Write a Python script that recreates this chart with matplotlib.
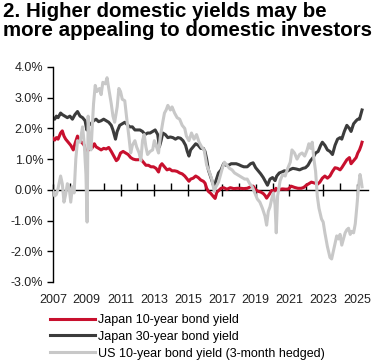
import numpy as np
import matplotlib.pyplot as plt
from matplotlib.ticker import MultipleLocator, FuncFormatter

plt.rcParams['font.family'] = ['Liberation Sans', 'DejaVu Sans']

# Japan 10-year bond yield (%), decimal year
jgb10_t = [2007.00, 2007.10, 2007.20, 2007.30, 2007.45, 2007.55, 2007.65, 2007.75, 2007.90, 2008.05,
           2008.20, 2008.30, 2008.45, 2008.55, 2008.70, 2008.85, 2008.95, 2009.10, 2009.30, 2009.45,
           2009.55, 2009.70, 2009.85, 2010.00, 2010.15, 2010.30, 2010.45, 2010.60, 2010.75, 2010.85,
           2011.00, 2011.15, 2011.30, 2011.45, 2011.60, 2011.75, 2011.90, 2012.05, 2012.20, 2012.35,
           2012.50, 2012.65, 2012.80, 2012.95, 2013.10, 2013.25, 2013.35, 2013.45, 2013.60, 2013.75,
           2013.90, 2014.05, 2014.20, 2014.35, 2014.50, 2014.65, 2014.80, 2014.95, 2015.05, 2015.15,
           2015.30, 2015.45, 2015.60, 2015.75, 2015.90, 2016.00, 2016.10, 2016.20, 2016.35, 2016.50,
           2016.60, 2016.70, 2016.85, 2016.95, 2017.10, 2017.30, 2017.50, 2017.70, 2017.90, 2018.10,
           2018.30, 2018.50, 2018.70, 2018.85, 2019.00, 2019.15, 2019.30, 2019.45, 2019.55, 2019.65,
           2019.80, 2019.95, 2020.10, 2020.20, 2020.30, 2020.45, 2020.60, 2020.80, 2020.95, 2021.10,
           2021.30, 2021.50, 2021.70, 2021.85, 2022.00, 2022.15, 2022.30, 2022.50, 2022.65, 2022.80,
           2022.95, 2023.10, 2023.25, 2023.40, 2023.55, 2023.70, 2023.85, 2024.00, 2024.10, 2024.25,
           2024.40, 2024.55, 2024.65, 2024.80, 2024.95, 2025.05, 2025.15, 2025.25, 2025.30]
jgb10_v = [1.68, 1.62, 1.70, 1.65, 1.85, 1.92, 1.75, 1.65, 1.55, 1.45,
           1.30, 1.50, 1.75, 1.60, 1.55, 1.45, 1.20, 1.30, 1.35, 1.50,
           1.40, 1.35, 1.30, 1.35, 1.33, 1.38, 1.25, 1.10, 0.95, 1.00,
           1.20, 1.25, 1.20, 1.15, 1.05, 1.00, 0.98, 0.98, 1.00, 0.90,
           0.80, 0.80, 0.75, 0.75, 0.70, 0.58, 0.78, 0.85, 0.75, 0.65,
           0.68, 0.62, 0.62, 0.60, 0.55, 0.52, 0.45, 0.35, 0.28, 0.35,
           0.38, 0.45, 0.40, 0.32, 0.28, 0.22, 0.05, -0.05, -0.12, -0.22,
           -0.28, -0.08, 0.00, 0.05, 0.07, 0.02, 0.07, 0.04, 0.05, 0.05,
           0.04, 0.05, 0.10, 0.12, 0.00, -0.05, -0.07, -0.12, -0.18, -0.27,
           -0.15, -0.02, -0.05, 0.05, -0.02, 0.02, 0.03, 0.02, 0.03, 0.12,
           0.08, 0.05, 0.05, 0.08, 0.15, 0.20, 0.25, 0.22, 0.18, 0.25,
           0.38, 0.45, 0.38, 0.45, 0.60, 0.72, 0.70, 0.65, 0.72, 0.85,
           0.98, 1.05, 0.85, 0.95, 1.05, 1.20, 1.30, 1.45, 1.55]

# Japan 30-year bond yield (%)
jgb30_t = [2007.00, 2007.10, 2007.20, 2007.30, 2007.45, 2007.55, 2007.70, 2007.85, 2008.00, 2008.15,
           2008.30, 2008.45, 2008.60, 2008.75, 2008.90, 2009.00, 2009.10, 2009.25, 2009.40, 2009.55,
           2009.70, 2009.85, 2010.00, 2010.15, 2010.30, 2010.45, 2010.55, 2010.70, 2010.80, 2010.95,
           2011.10, 2011.25, 2011.40, 2011.55, 2011.70, 2011.85, 2012.00, 2012.15, 2012.30, 2012.45,
           2012.60, 2012.75, 2012.90, 2013.05, 2013.20, 2013.30, 2013.40, 2013.50, 2013.65, 2013.80,
           2013.95, 2014.10, 2014.25, 2014.40, 2014.55, 2014.70, 2014.85, 2014.95, 2015.05, 2015.15,
           2015.30, 2015.45, 2015.60, 2015.75, 2015.90, 2016.00, 2016.10, 2016.20, 2016.35, 2016.50,
           2016.55, 2016.65, 2016.80, 2016.95, 2017.10, 2017.25, 2017.40, 2017.55, 2017.70, 2017.85,
           2018.00, 2018.15, 2018.30, 2018.50, 2018.70, 2018.85, 2019.00, 2019.15, 2019.30, 2019.45,
           2019.60, 2019.70, 2019.85, 2020.00, 2020.15, 2020.25, 2020.40, 2020.55, 2020.70, 2020.85,
           2021.00, 2021.20, 2021.40, 2021.60, 2021.80, 2021.95, 2022.10, 2022.25, 2022.40, 2022.55,
           2022.70, 2022.85, 2022.95, 2023.10, 2023.25, 2023.40, 2023.55, 2023.70, 2023.85, 2024.00,
           2024.10, 2024.25, 2024.40, 2024.55, 2024.65, 2024.80, 2024.95, 2025.05, 2025.15, 2025.25,
           2025.30]
jgb30_v = [2.35, 2.30, 2.40, 2.35, 2.50, 2.45, 2.40, 2.35, 2.40, 2.30,
           2.45, 2.55, 2.40, 2.35, 2.25, 1.95, 2.10, 2.15, 2.25, 2.30,
           2.22, 2.25, 2.30, 2.25, 2.20, 2.10, 1.95, 1.65, 1.90, 2.10,
           2.15, 2.20, 2.12, 2.05, 2.05, 1.95, 1.95, 1.95, 1.90, 1.80,
           1.85, 1.85, 1.90, 1.95, 1.80, 1.40, 1.60, 1.85, 1.80, 1.70,
           1.72, 1.70, 1.65, 1.70, 1.68, 1.60, 1.45, 1.25, 1.10, 1.30,
           1.40, 1.50, 1.45, 1.35, 1.35, 1.25, 1.00, 0.65, 0.40, 0.15,
           0.08, 0.30, 0.55, 0.65, 0.85, 0.80, 0.80, 0.85, 0.85, 0.85,
           0.82, 0.78, 0.75, 0.75, 0.85, 0.88, 0.72, 0.62, 0.52, 0.40,
           0.25, 0.15, 0.35, 0.40, 0.30, 0.45, 0.55, 0.58, 0.62, 0.60,
           0.65, 0.70, 0.68, 0.65, 0.70, 0.72, 0.80, 0.95, 1.05, 1.20,
           1.25, 1.45, 1.55, 1.45, 1.30, 1.25, 1.15, 1.45, 1.65, 1.70,
           1.65, 1.90, 2.10, 2.00, 1.90, 2.15, 2.25, 2.30, 2.30, 2.50,
           2.60]

# US 10-year bond yield, 3-month hedged into JPY (%)
us10h_t = [2007.00, 2007.10, 2007.20, 2007.30, 2007.45, 2007.55, 2007.65, 2007.75, 2007.85, 2007.95,
           2008.05, 2008.15, 2008.25, 2008.35, 2008.45, 2008.60, 2008.75, 2008.85, 2008.95, 2009.02,
           2009.08, 2009.15, 2009.25, 2009.40, 2009.50, 2009.60, 2009.75, 2009.85, 2009.95, 2010.10,
           2010.20, 2010.30, 2010.45, 2010.55, 2010.65, 2010.80, 2010.90, 2011.00, 2011.10, 2011.25,
           2011.35, 2011.50, 2011.60, 2011.70, 2011.85, 2011.95, 2012.10, 2012.20, 2012.30, 2012.40,
           2012.50, 2012.60, 2012.75, 2012.90, 2013.00, 2013.10, 2013.25, 2013.35, 2013.50, 2013.60,
           2013.70, 2013.80, 2013.95, 2014.05, 2014.20, 2014.35, 2014.50, 2014.65, 2014.80, 2014.90,
           2015.05, 2015.20, 2015.35, 2015.50, 2015.65, 2015.80, 2015.95, 2016.10, 2016.25, 2016.40,
           2016.55, 2016.65, 2016.80, 2016.95, 2017.05, 2017.15, 2017.30, 2017.45, 2017.60, 2017.75,
           2017.90, 2018.05, 2018.20, 2018.35, 2018.50, 2018.65, 2018.80, 2018.95, 2019.10, 2019.25,
           2019.40, 2019.55, 2019.65, 2019.75, 2019.85, 2019.95, 2020.05, 2020.15, 2020.22, 2020.30,
           2020.45, 2020.60, 2020.75, 2020.90, 2021.05, 2021.15, 2021.30, 2021.45, 2021.60, 2021.75,
           2021.90, 2022.05, 2022.15, 2022.25, 2022.35, 2022.45, 2022.55, 2022.65, 2022.75, 2022.90,
           2023.00, 2023.10, 2023.25, 2023.40, 2023.50, 2023.60, 2023.70, 2023.80, 2023.90, 2024.00,
           2024.10, 2024.20, 2024.30, 2024.40, 2024.50, 2024.60, 2024.70, 2024.80, 2024.90, 2025.00,
           2025.10, 2025.18, 2025.25, 2025.30]
us10h_v = [-0.05, -0.20, -0.15, 0.05, 0.45, 0.20, -0.40, -0.15, 0.20, 0.10,
           -0.40, 0.10, -0.10, 1.00, 1.60, 1.55, 2.05, 1.50, 0.50, -1.05,
           2.40, 1.60, 1.30, 2.80, 3.40, 3.20, 3.30, 3.10, 3.50, 3.45,
           3.65, 3.30, 2.80, 2.40, 2.20, 2.70, 3.30, 3.20, 2.95, 2.90,
           2.40, 1.70, 1.20, 1.45, 1.60, 1.40, 1.20, 0.95, 1.60, 1.80,
           1.40, 1.15, 1.25, 1.30, 1.60, 1.45, 1.20, 1.70, 2.20, 2.50,
           2.60, 2.75, 2.60, 2.70, 2.50, 2.35, 2.30, 2.10, 2.00, 1.75,
           1.60, 1.85, 1.65, 1.80, 1.55, 1.40, 1.30, 0.80, 0.60, 0.35,
           -0.05, 0.10, 0.25, 0.55, 0.75, 0.90, 0.80, 0.70, 0.65, 0.55,
           0.50, 0.45, 0.40, 0.35, 0.35, 0.20, 0.10, -0.10, -0.30, -0.40,
           -0.60, -0.85, -1.15, -0.70, -0.55, -0.30, -0.10, -0.50, -1.40, -0.20,
           0.30, 0.50, 0.45, 0.70, 0.90, 1.30, 1.20, 1.00, 1.15, 1.20,
           1.10, 1.30, 1.50, 1.35, 1.55, 1.00, 0.60, -0.20, -0.60, -0.95,
           -1.05, -1.40, -1.85, -2.20, -2.25, -2.00, -1.75, -1.50, -1.60, -1.45,
           -1.80, -1.60, -1.40, -1.30, -1.25, -1.45, -1.35, -1.40, -1.10, -0.50,
           0.15, 0.50, 0.30, 0.10]

labels = ['Japan 10-year bond yield', 'Japan 30-year bond yield',
          'US 10-year bond yield (3-month hedged)']
colors = ['#c8102e', '#3c3c3c', '#c8c8c8']
years = [2007, 2009, 2011, 2013, 2015, 2017, 2019, 2021, 2023, 2025]

fig = plt.figure(figsize=(3.77, 3.64), dpi=100)
ax = fig.add_axes([0.1406, 0.2253, 0.976 - 0.1406, 0.816 - 0.2253])

lw = 2.2
ax.plot(jgb10_t, jgb10_v, color=colors[0], lw=lw, label=labels[0], zorder=3)
ax.plot(jgb30_t, jgb30_v, color=colors[1], lw=lw, label=labels[1], zorder=2)
ax.plot(us10h_t, us10h_v, color=colors[2], lw=lw, label=labels[2], zorder=4)

ax.set_xlim(2007, 2025.65)
ax.set_ylim(-3, 4)

for s in ['top', 'right']:
    ax.spines[s].set_visible(False)
ax.spines['bottom'].set_position(('data', 0))
ax.spines['bottom'].set_linewidth(1)
ax.spines['left'].set_linewidth(1)
ax.spines['bottom'].set_zorder(1)

ax.yaxis.set_major_locator(MultipleLocator(1))
ax.yaxis.set_major_formatter(FuncFormatter(lambda v, p: f'{v:.1f}%'))
ax.tick_params(axis='y', direction='out', length=4, width=1, labelsize=9,
               labelcolor='#222222', pad=3)

ax.set_xticks(years)
ax.set_xticks(range(2008, 2026, 2), minor=True)
ax.tick_params(axis='x', which='major', direction='inout', length=9, width=1,
               labelbottom=False)
ax.tick_params(axis='x', which='minor', direction='in', length=5, width=1)

# year labels sit under the plot area, not at the zero line
sec = ax.secondary_xaxis(0)
sec.set_xticks(years)
sec.set_xticklabels([str(y) for y in years])
sec.spines['bottom'].set_visible(False)
sec.tick_params(axis='x', length=0, labelsize=9, labelcolor='#222222', pad=9)

fig.text(0.008, 0.995, '2. Higher domestic yields may be\nmore appealing to domestic investors',
         ha='left', va='top', fontsize=14.8, fontweight='bold', linespacing=1.0)

fig.legend(loc='upper left', bbox_to_anchor=(50 / 377, 1 - 314 / 364), frameon=False,
           fontsize=9, handlelength=3.6, handletextpad=0.25, labelspacing=0.38,
           borderpad=0, borderaxespad=0)

fig.savefig('out.png', dpi=100)
